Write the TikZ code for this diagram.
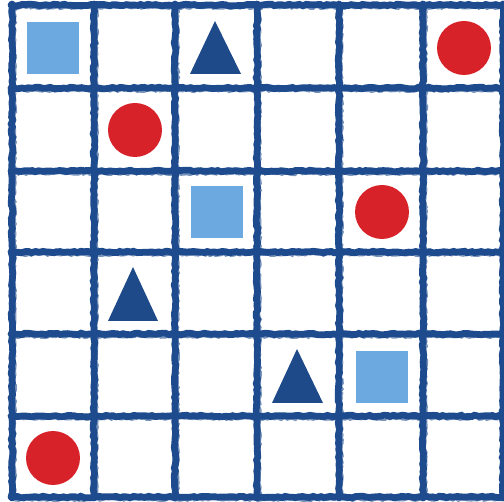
\documentclass[tikz,border=0pt]{standalone}
\usetikzlibrary{decorations.pathmorphing}
\definecolor{clrGrid}{HTML}{1E4B8D}
\definecolor{clrSq}{HTML}{6CA9E1}
\definecolor{clrDot}{HTML}{D8222A}
\definecolor{clrTri}{HTML}{1F4A8A}

\begin{document}
\begin{tikzpicture}[
  x=0.02cm, y=-0.02cm,
  gridln/.style = {
    draw=clrGrid, line width=0.135cm, line cap=round,
    decorate, decoration={random steps, segment length=2pt, amplitude=0.45pt}
  },
  gridfz/.style = {
    draw=clrGrid, line width=0.04cm, opacity=0.6,
    decorate, decoration={random steps, segment length=1.5pt, amplitude=0.6pt}
  },
  sq/.style  = {rectangle, fill=clrSq, minimum size=1.04cm, inner sep=0pt},
  dot/.style = {circle, fill=clrDot, minimum size=1.08cm, inner sep=0pt},
  tri/.style = {fill=clrTri}
]
  \pgfmathsetseed{7}
  \useasboundingbox (0,0) rectangle (504,502);
  \fill[white] (0,0) rectangle (504,502);

  % grid
  \foreach \gx in {12,94,175,257,339,423,503} {
    \draw[gridln] (\gx,4) -- (\gx,498);
    \draw[gridfz] (\gx+3,6) -- (\gx+3,496);
  }
  \foreach \gy in {5,88,171,252,334,416,497} {
    \draw[gridln] (11,\gy) -- (505,\gy);
    \draw[gridfz] (13,\gy+3) -- (503,\gy+3);
  }

  % squares
  \node[sq]  (sqA)  at (53,48)   {};
  \node[sq]  (sqB)  at (217,212) {};
  \node[sq]  (sqC)  at (382,377) {};

  % circles
  \node[dot] (dotA) at (464,48)  {};
  \node[dot] (dotB) at (135,130) {};
  \node[dot] (dotC) at (382,212) {};
  \node[dot] (dotD) at (53,458)  {};

  % triangles
  \fill[tri] (215,21)  -- (241,74)  -- (190,74)  -- cycle;
  \fill[tri] (133,267) -- (158,321) -- (108,321) -- cycle;
  \fill[tri] (297,349) -- (323,403) -- (272,403) -- cycle;
\end{tikzpicture}
\end{document}
